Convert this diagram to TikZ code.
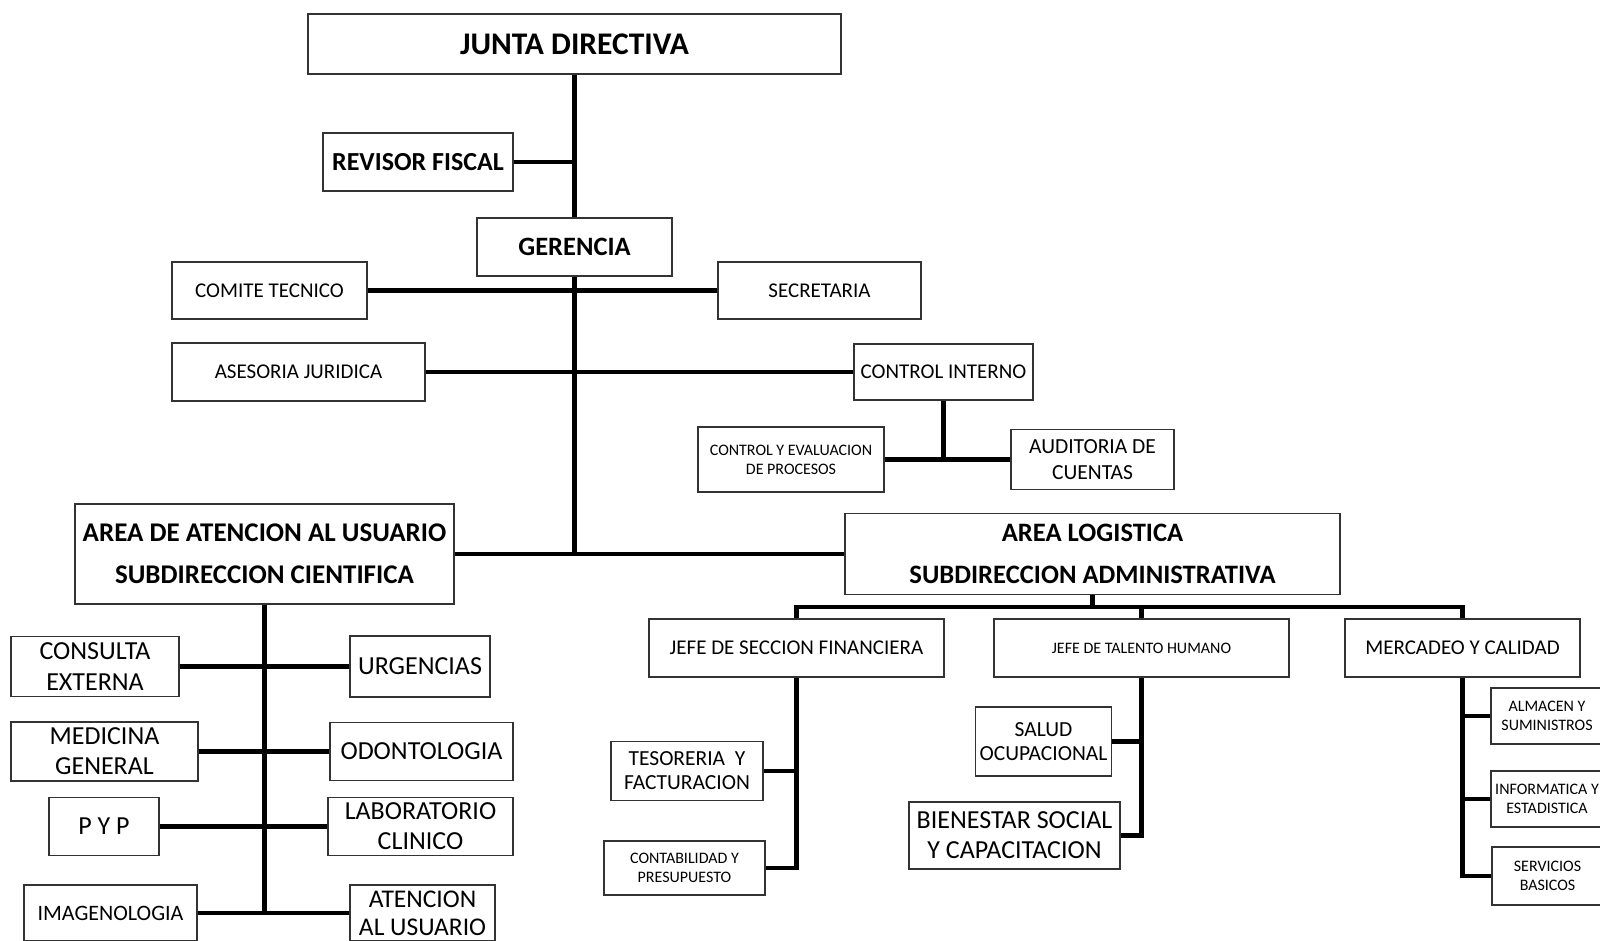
\documentclass[tikz,border=0pt]{standalone}
\usepackage{fontspec}
\setmainfont{Carlito}
\newcommand{\myfs}[2]{\fontsize{#1}{#2}\selectfont}
\tikzset{
  box/.style={draw=black!80, line width=1.3pt, fill=white, inner sep=0pt, align=center},
  conn/.style={line width=4.5pt, draw=black, line join=miter},
}
\begin{document}
\begin{tikzpicture}[x=1pt,y=-1pt]
\fill[white] (0,0) rectangle (1600,940);
\useasboundingbox (0,0) rectangle (1600,940);

% top level
\node[box, minimum width=533pt, minimum height=60pt, font=\bfseries\myfs{31.5}{36}] (junta) at (574.5,44) {JUNTA DIRECTIVA};
\node[box, minimum width=190pt, minimum height=58pt, font=\bfseries\myfs{26}{30}] (revisor) at (418,162) {REVISOR FISCAL};
\node[box, minimum width=195pt, minimum height=58pt, font=\bfseries\myfs{26.5}{30}] (gerencia) at (574.5,247) {GERENCIA};
\node[box, minimum width=195pt, minimum height=57pt, font=\myfs{21}{25}] (comite) at (269.5,290.5) {COMITE TECNICO};
\node[box, minimum width=203pt, minimum height=57pt, font=\myfs{21}{25}] (secretaria) at (819.5,290.5) {SECRETARIA};
\node[box, minimum width=253pt, minimum height=58pt, font=\myfs{21}{25}] (asesoria) at (298.5,372) {ASESORIA JURIDICA};
\node[box, minimum width=179pt, minimum height=56pt, font=\myfs{21}{25}] (control) at (943.5,372) {CONTROL INTERNO};
\node[box, minimum width=186pt, minimum height=65pt, font=\myfs{16}{19}] (cye) at (791,459.5) {CONTROL Y EVALUACION\\DE PROCESOS};
\node[box, minimum width=163pt, minimum height=60pt, font=\myfs{21.5}{25.5}] (auditoria) at (1092.5,459.5) {AUDITORIA DE\\CUENTAS};

% areas
\node[box, minimum width=379pt, minimum height=100pt, font=\bfseries\myfs{27}{42}] (aau) at (264.5,554) {AREA DE ATENCION AL USUARIO\\SUBDIRECCION CIENTIFICA};
\node[box, minimum width=495pt, minimum height=81pt, font=\bfseries\myfs{26.6}{42.5}] (alog) at (1092.5,554) {AREA LOGISTICA\\SUBDIRECCION ADMINISTRATIVA};

% logistic children
\node[box, minimum width=295pt, minimum height=58pt, font=\myfs{21}{25}] (jfin) at (796.5,648) {JEFE DE SECCION FINANCIERA};
\node[box, minimum width=295pt, minimum height=58pt, font=\myfs{16}{19}] (jtal) at (1141.5,648) {JEFE DE TALENTO HUMANO};
\node[box, minimum width=235pt, minimum height=58pt, font=\myfs{21}{25}] (merc) at (1462.5,648) {MERCADEO Y CALIDAD};
\node[box, minimum width=152pt, minimum height=59pt, font=\myfs{21.5}{24}] (teso) at (687,771) {TESORERIA~~Y\\FACTURACION};
\node[box, minimum width=161pt, minimum height=54pt, font=\myfs{16}{18.5}] (conta) at (684.5,868) {CONTABILIDAD Y\\PRESUPUESTO};
\node[box, minimum width=136pt, minimum height=69pt, font=\myfs{21.5}{23.7}] (salud) at (1043.5,741.5) {SALUD\\OCUPACIONAL};
\node[box, minimum width=211pt, minimum height=67pt, font=\myfs{26}{30}] (bien) at (1014.5,835.5) {BIENESTAR SOCIAL\\Y CAPACITACION};
\node[box, minimum width=112pt, minimum height=56pt, font=\myfs{16}{19}] (alm) at (1547,716) {ALMACEN Y\\SUMINISTROS};
\node[box, minimum width=112pt, minimum height=56pt, font=\myfs{16}{19}] (inf) at (1547,799) {INFORMATICA Y\\ESTADISTICA};
\node[box, minimum width=111pt, minimum height=58pt, font=\myfs{16}{19}] (serv) at (1547.5,876) {SERVICIOS\\BASICOS};

% attention children
\node[box, minimum width=168pt, minimum height=60pt, font=\myfs{26}{30.5}] (cons) at (95,666.5) {CONSULTA\\EXTERNA};
\node[box, minimum width=140pt, minimum height=61pt, font=\myfs{26}{30}] (urg) at (420,666.5) {URGENCIAS};
\node[box, minimum width=187pt, minimum height=59pt, font=\myfs{26}{30}] (med) at (104.5,751.5) {MEDICINA\\GENERAL};
\node[box, minimum width=183pt, minimum height=58pt, font=\myfs{26}{30}] (odo) at (421.5,751.5) {ODONTOLOGIA};
\node[box, minimum width=110pt, minimum height=58pt, font=\myfs{26}{30}] (pyp) at (104,826.5) {P Y P};
\node[box, minimum width=185pt, minimum height=58pt, font=\myfs{26}{30}] (lab) at (420.5,826.5) {LABORATORIO\\CLINICO};
\node[box, minimum width=173pt, minimum height=56pt, font=\myfs{22}{26}] (ima) at (110.5,913) {IMAGENOLOGIA};
\node[box, minimum width=145pt, minimum height=56pt, font=\myfs{25.5}{28}] (aten) at (422.5,913) {ATENCION\\AL USUARIO};

% connectors: top
\coordinate (g1) at (574.5,554);
\draw[conn] (junta.south) -- (gerencia.north);
\draw[conn] (revisor.east) -- (revisor.east -| junta.south);
\draw[conn] (gerencia.south) -- (g1);
\draw[conn] (comite.east) -- (secretaria.west);
\draw[conn] (asesoria.east) -- (control.west);
\draw[conn] (control.south) -- (control.south |- cye.east);
\draw[conn] (cye.east) -- (auditoria.west);
\draw[conn] (aau.east) -- (alog.west);

% logistic bus
\coordinate (busL) at (796.5,607);
\coordinate (busR) at (1462.5,607);
\draw[conn] (jfin.north) -- (busL) -- (busR) -- (merc.north);
\draw[conn] (alog.south) -- (alog.south |- busL);
\draw[conn] (jtal.north) -- (jtal.north |- busL);

\draw[conn] (jfin.south) |- (conta.east);
\draw[conn] (teso.east) -- (teso.east -| jfin.south);
\draw[conn] (jtal.south) |- (bien.east);
\draw[conn] (salud.east) -- (salud.east -| jtal.south);
\draw[conn] (merc.south) |- (serv.west);
\draw[conn] (alm.west) -- (alm.west -| merc.south);
\draw[conn] (inf.west) -- (inf.west -| merc.south);

% attention tree
\draw[conn] (aau.south) -- (aau.south |- ima.east);
\draw[conn] (cons.east) -- (urg.west);
\draw[conn] (med.east) -- (odo.west);
\draw[conn] (pyp.east) -- (lab.west);
\draw[conn] (ima.east) -- (aten.west);
\end{tikzpicture}
\end{document}
